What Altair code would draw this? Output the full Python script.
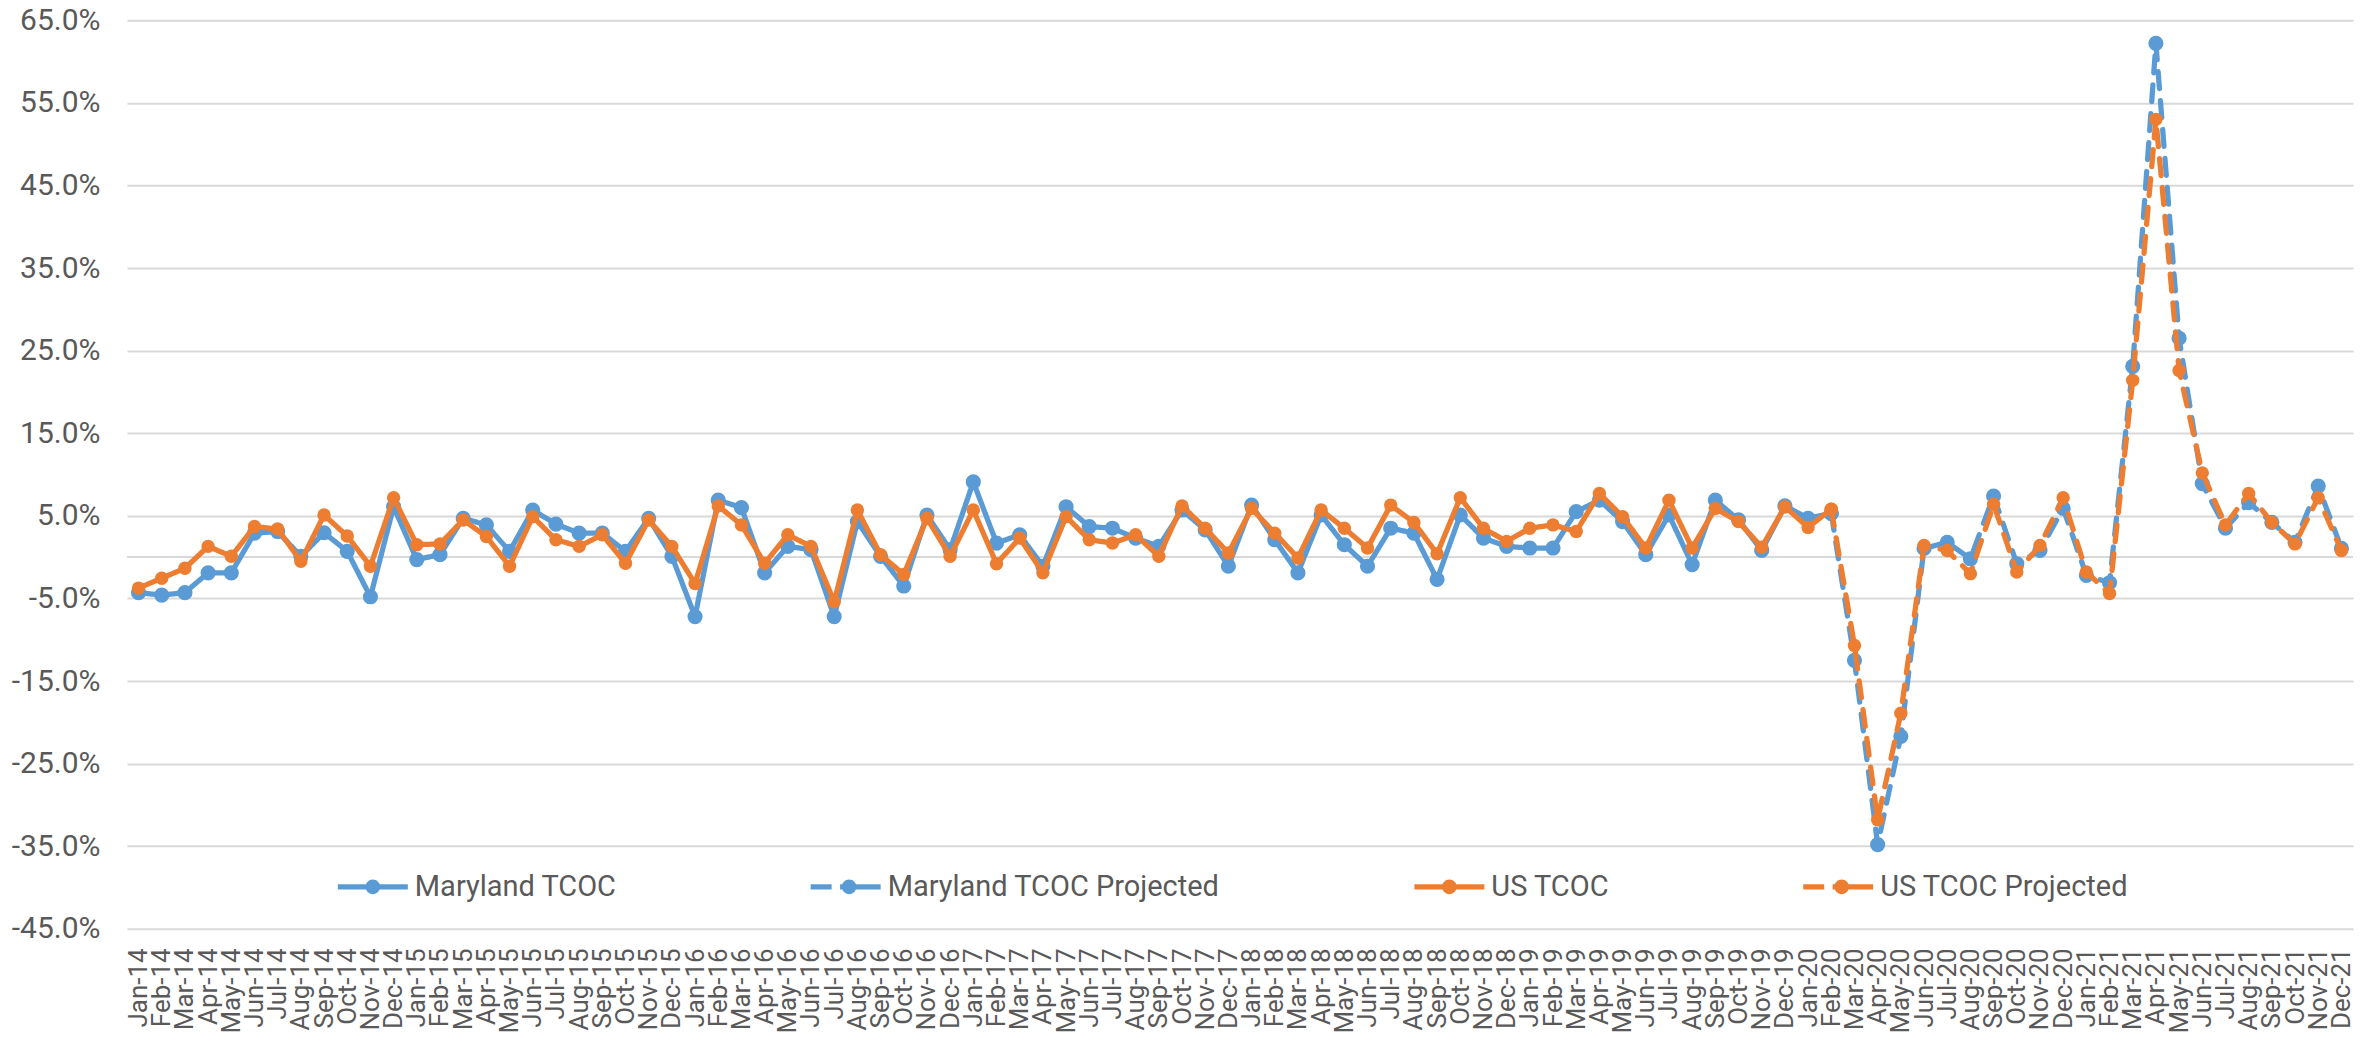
import altair as alt
import pandas as pd

FONT = "Roboto"
GRAY = "#595959"
GRID = "#D9D9D9"

month_names = ["Jan", "Feb", "Mar", "Apr", "May", "Jun", "Jul", "Aug", "Sep", "Oct", "Nov", "Dec"]
years = ["14", "15", "16", "17", "18", "19", "20", "21"]
months = [f"{m}-{y}" for y in years for m in month_names]

# Actual values (percent), Jan-14 .. Feb-20
md_actual = [-4.3, -4.6, -4.3, -1.9, -1.9, 2.9, 3.1, 0.1, 2.95, 0.7, -4.8, 6.1,
             -0.3, 0.3, 4.7, 3.9, 0.7, 5.7, 4.0, 2.9, 2.9, 0.7, 4.7, 0.1,
             -7.2, 6.9, 6.0, -1.9, 1.3, 0.9, -7.2, 4.3, 0.1, -3.5, 5.1, 0.9,
             9.1, 1.7, 2.7, -1.1, 6.1, 3.7, 3.5, 2.3, 1.3, 5.7, 3.3, -1.1,
             6.3, 2.1, -1.9, 5.1, 1.5, -1.1, 3.5, 2.9, -2.7, 5.1, 2.3, 1.3,
             1.1, 1.1, 5.5, 6.9, 4.3, 0.3, 5.1, -0.9, 6.9, 4.5, 0.8, 6.2,
             4.7, 5.3]
us_actual = [-3.75, -2.55, -1.35, 1.3, 0.1, 3.7, 3.4, -0.5, 5.1, 2.55, -1.1, 7.2,
             1.5, 1.6, 4.5, 2.5, -1.1, 4.9, 2.1, 1.3, 2.7, -0.75, 4.5, 1.3,
             -3.2, 6.2, 3.9, -0.75, 2.7, 1.3, -5.4, 5.7, 0.3, -2.1, 4.7, 0.1,
             5.7, -0.8, 2.3, -1.9, 4.9, 2.1, 1.7, 2.7, 0.1, 6.2, 3.5, 0.5,
             5.9, 2.9, -0.1, 5.7, 3.5, 1.1, 6.3, 4.2, 0.4, 7.2, 3.5, 1.9,
             3.5, 3.9, 3.1, 7.7, 4.9, 1.1, 6.9, 1.1, 5.9, 4.3, 1.2, 6.1,
             3.6, 5.8]

# Projected values (percent), Feb-20 .. Dec-21
proj_start = "Feb-20"
md_projected = [5.3, -12.5, -34.8, -21.7, 1.05, 1.8, -0.2, 7.4, -0.8, 0.8, 5.9,
                -2.2, -3.1, 23.1, 62.2, 26.5, 8.9, 3.5, 6.6, 4.2, 1.8, 8.6, 1.05]
us_projected = [5.8, -10.7, -31.8, -18.9, 1.4, 0.8, -2.0, 6.4, -1.8, 1.4, 7.2,
                -1.8, -4.4, 21.4, 53.0, 22.6, 10.2, 3.9, 7.7, 4.2, 1.6, 7.2, 0.8]

series_names = ["Maryland TCOC", "Maryland TCOC Projected", "US TCOC", "US TCOC Projected"]
series_colors = ["#5B9BD5", "#5B9BD5", "#ED7D31", "#ED7D31"]
y_ticks = [-45, -35, -25, -15, -5, 5, 15, 25, 35, 45, 55, 65]

# legend symbols: line with marker, and dashed line with marker
PATH_SOLID = ("M-1,-0.075L1,-0.075L1,0.075L-1,0.075Z"
              "M0.21,0A0.21,0.21,0,1,1,-0.21,0A0.21,0.21,0,1,1,0.21,0Z")
PATH_DASH = ("M-1,-0.075L-0.4,-0.075L-0.4,0.075L-1,0.075Z"
             "M-0.16,-0.075L1,-0.075L1,0.075L-0.16,0.075Z"
             "M0.31,0A0.21,0.21,0,1,1,-0.11,0A0.21,0.21,0,1,1,0.31,0Z")
legend_shapes = [PATH_SOLID, PATH_DASH, PATH_SOLID, PATH_DASH]

rows = []
for i, v in enumerate(md_actual):
    rows.append({"month": months[i], "value": v / 100, "series": series_names[0]})
for i, v in enumerate(us_actual):
    rows.append({"month": months[i], "value": v / 100, "series": series_names[2]})
p0 = months.index(proj_start)
for i, v in enumerate(md_projected):
    rows.append({"month": months[p0 + i], "value": v / 100, "series": series_names[1]})
for i, v in enumerate(us_projected):
    rows.append({"month": months[p0 + i], "value": v / 100, "series": series_names[3]})
df = pd.DataFrame(rows)
zero_df = pd.DataFrame({"value": [0.0]})

x_enc = alt.X(
    "month:N", sort=months,
    scale=alt.Scale(type="point", domain=months, padding=0.5),
    axis=alt.Axis(title=None, labelAngle=270, labelFont=FONT, labelFontSize=26,
                  labelColor=GRAY, labelPadding=19, ticks=False, tickSize=0,
                  domain=False, grid=False, labelOverlap=False),
)
y_scale = alt.Scale(domain=[-0.45, 0.65], nice=False, zero=False)
y_enc = alt.Y(
    "value:Q", scale=y_scale,
    axis=alt.Axis(title=None, values=[t / 100 for t in y_ticks],
                  labelExpr="replace(format(datum.value, '.1%'), '\u2212', '-')",
                  labelFont=FONT, labelFontSize=30, labelColor=GRAY,
                  labelPadding=27, ticks=False, tickSize=0, domain=False,
                  grid=True, gridColor=GRID, gridWidth=2),
)

base = alt.Chart(df)

zero_rule = alt.Chart(zero_df).mark_rule(color=GRID, strokeWidth=2).encode(y=y_enc)


def line_layer(name, color, dash):
    return base.transform_filter(alt.datum.series == name).mark_line(
        color=color, strokeWidth=5.25, strokeCap="round", strokeJoin="round",
        strokeDash=dash,
    ).encode(x=x_enc, y=y_enc)


def point_layer(names, color, size):
    return base.transform_filter(alt.FieldOneOfPredicate(field="series", oneOf=names)).mark_circle(
        color=color, size=size, opacity=1,
    ).encode(x=x_enc, y=y_enc)


md_line_a = line_layer(series_names[0], series_colors[0], [1, 0])
md_line_p = line_layer(series_names[1], series_colors[1], [17, 12])
md_pts = point_layer(series_names[:2], series_colors[0], 230)
us_line_a = line_layer(series_names[2], series_colors[2], [1, 0])
us_line_p = line_layer(series_names[3], series_colors[3], [17, 12])
us_pts = point_layer(series_names[2:], series_colors[2], 180)

legend_def = alt.Legend(
    orient="none", legendX=211, legendY=832, direction="horizontal", title=None,
    labelFont=FONT, labelFontSize=29, labelColor=GRAY, symbolSize=4900,
    symbolStrokeWidth=0, labelOffset=7, columnPadding=194, labelLimit=800,
    padding=0,
)
legend_layer = base.transform_filter("false").mark_point(
    filled=True, opacity=1, strokeWidth=0
).encode(
    color=alt.Color("series:N", scale=alt.Scale(domain=series_names, range=series_colors),
                    legend=legend_def),
    shape=alt.Shape("series:N", scale=alt.Scale(domain=series_names, range=legend_shapes),
                    legend=legend_def),
)

chart = alt.layer(
    zero_rule, md_line_a, md_line_p, md_pts, us_line_a, us_line_p, us_pts, legend_layer
).properties(
    width=2227, height=909,
    autosize=alt.AutoSizeParams(type="none"),
    padding={"left": 119, "top": 12, "right": 10, "bottom": 106},
    background="white",
).configure_view(stroke=None)

chart.save("out.html", embed_options={"renderer": "svg", "actions": False})
